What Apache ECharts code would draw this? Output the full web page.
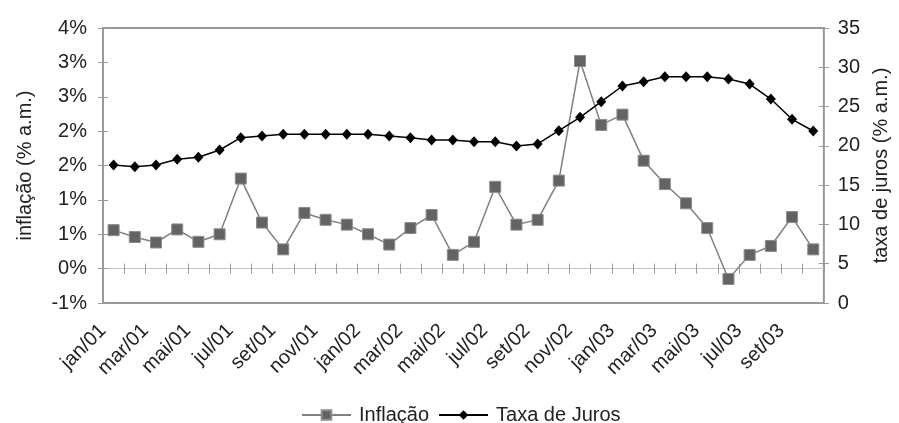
<!DOCTYPE html>
<html><head><meta charset="utf-8">
<script src="https://cdn.jsdelivr.net/npm/echarts@6/dist/echarts.min.js"></script>
<style>html,body{margin:0;padding:0;background:#fff}#c{width:899px;height:423px}</style>
</head><body><div id="c"></div>
<script>
const months = ['jan/01','fev/01','mar/01','abr/01','mai/01','jun/01','jul/01','ago/01','set/01','out/01','nov/01','dez/01',
  'jan/02','fev/02','mar/02','abr/02','mai/02','jun/02','jul/02','ago/02','set/02','out/02','nov/02','dez/02',
  'jan/03','fev/03','mar/03','abr/03','mai/03','jun/03','jul/03','ago/03','set/03','out/03'];
const inflacao = [0.56,0.46,0.38,0.57,0.39,0.50,1.31,0.67,0.28,0.81,0.71,0.64,
  0.50,0.35,0.59,0.78,0.20,0.39,1.19,0.64,0.71,1.28,3.02,2.09,
  2.24,1.57,1.23,0.95,0.59,-0.15,0.20,0.33,0.75,0.28];
const taxaJuros = [17.56,17.35,17.56,18.29,18.54,19.47,21.04,21.25,21.47,21.47,21.47,21.47,
  21.47,21.25,21.04,20.75,20.75,20.53,20.53,19.98,20.24,21.93,23.63,25.62,
  27.62,28.17,28.80,28.80,28.80,28.51,27.87,25.96,23.38,21.89];
const leftTickLabels = ['-1%','0%','1%','1%','2%','2%','3%','3%','4%'];
const rightTickLabels = ['0','5','10','15','20','25','30','35'];

const FONT = '"Liberation Sans", Arial, sans-serif';
const FS = 20;
const tickColor = '#9a9a9a';

const chart = echarts.init(document.getElementById('c'), null, {renderer: 'canvas'});
const baseX = {
  type: 'category', data: months, boundaryGap: true, position: 'bottom',
  axisLabel: {show: false}, splitLine: {show: false}
};
const option = {
  animation: false,
  backgroundColor: '#ffffff',
  textStyle: {fontFamily: FONT},
  grid: {left: 103, right: 67, top: 28, bottom: 120, show: true, borderColor: '#999', borderWidth: 2, backgroundColor: 'transparent'},
  legend: {
    left: 296, top: 400, itemWidth: 49, itemHeight: 12, itemGap: 9,
    textStyle: {fontFamily: FONT, fontSize: FS, color: '#222', padding: [0, 0, 0, 3]},
    data: ['Inflação', 'Taxa de Juros']
  },
  xAxis: [
    Object.assign({}, baseX, {
      axisLine: {show: false, onZero: false}, axisTick: {show: false},
      axisLabel: {show: true, rotate: 45, interval: 1, margin: 14, padding: [0, 15, 0, 0],
        fontFamily: FONT, fontSize: FS, color: '#222'}
    }),
    Object.assign({}, baseX, {
      axisLine: {show: true, onZero: true, onZeroAxisIndex: 0, lineStyle: {color: '#c4c4c4', width: 1}},
      axisTick: {show: true, interval: 0, length: 5, lineStyle: {color: tickColor}}
    }),
    Object.assign({}, baseX, {
      axisLine: {show: false, onZero: true, onZeroAxisIndex: 0},
      axisTick: {show: true, inside: true, interval: 0, length: 5, lineStyle: {color: tickColor}}
    })
  ],
  yAxis: [
    {
      type: 'value', position: 'left', min: -0.5, max: 3.5, interval: 0.5,
      name: 'inflação (% a.m.)', nameLocation: 'middle', nameGap: 68,
      nameTextStyle: {fontFamily: FONT, fontSize: FS, color: '#222'},
      axisLine: {show: false}, splitLine: {show: false},
      axisTick: {show: true, length: 5, lineStyle: {color: tickColor}},
      axisLabel: {margin: 16, fontFamily: FONT, fontSize: FS, color: '#222',
        formatter: (v) => leftTickLabels[Math.round((v + 0.5) / 0.5)]}
    },
    {
      type: 'value', position: 'right', min: 0, max: 35, interval: 5,
      name: 'taxa de juros (% a.m.)', nameLocation: 'middle', nameGap: 46,
      nameTextStyle: {fontFamily: FONT, fontSize: FS, color: '#222'},
      axisLine: {show: false}, splitLine: {show: false},
      axisTick: {show: true, length: 5, lineStyle: {color: tickColor}},
      axisLabel: {margin: 14, fontFamily: FONT, fontSize: FS, color: '#222',
        formatter: (v) => rightTickLabels[Math.round(v / 5)]}
    },
    {
      type: 'value', position: 'left', min: -0.5, max: 3.5, interval: 0.5,
      axisLine: {show: false}, splitLine: {show: false}, axisLabel: {show: false},
      axisTick: {show: true, inside: true, length: 5, lineStyle: {color: tickColor}}
    },
    {
      type: 'value', position: 'right', min: 0, max: 35, interval: 5,
      axisLine: {show: false}, splitLine: {show: false}, axisLabel: {show: false},
      axisTick: {show: true, inside: true, length: 5, lineStyle: {color: tickColor}}
    }
  ],
  series: [
    {
      name: 'Inflação', type: 'line', xAxisIndex: 0, yAxisIndex: 0, data: inflacao,
      symbol: 'rect', symbolSize: 11,
      lineStyle: {color: '#808080', width: 1.5},
      itemStyle: {color: '#636363', borderColor: '#8c8c8c', borderWidth: 1}
    },
    {
      name: 'Taxa de Juros', type: 'line', xAxisIndex: 0, yAxisIndex: 1, data: taxaJuros,
      symbol: 'diamond', symbolSize: [10, 11],
      lineStyle: {color: '#000', width: 1.5},
      itemStyle: {color: '#000'}
    }
  ]
};
chart.setOption(option);
</script></body></html>
